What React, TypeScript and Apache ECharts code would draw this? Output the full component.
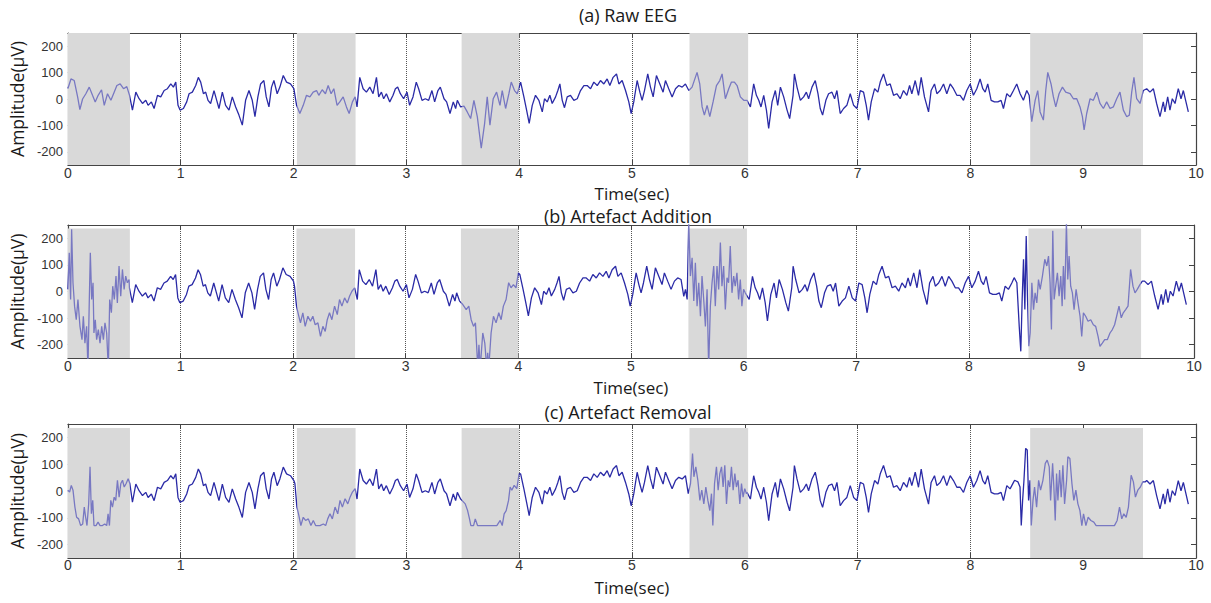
import React, { useEffect, useRef } from "react";
import * as echarts from "echarts";

// ---------------- data (time in seconds, amplitude in µV) ----------------
const TITLES = ["(a) Raw EEG", "(b) Artefact Addition", "(c) Artefact Removal"];
const X_NAME = "Time(sec)";
const Y_NAME = "Amplitude(\u03bcV)";
const Y_TICKS = [-200, -100, 0, 100, 200];
const SHADES: number[][] = [[0, 0.55], [2.03, 2.55], [3.49, 4.0], [5.51, 6.03], [8.53, 9.53]];
const SHADE_TOPS = [250, 237, 235];

const RAW_0_3: number[][] = [[0.000,40],[0.027,76],[0.056,70],[0.086,8],[0.106,-40],[0.130,0],[0.159,20],[0.189,45],[0.218,14],[0.242,-11],[0.268,14],[0.298,35],[0.322,-24],[0.351,20],[0.381,-5],[0.410,26],[0.434,51],[0.463,57],[0.493,39],[0.522,47],[0.546,14],[0.572,-42],[0.602,26],[0.631,1],[0.661,-17],[0.690,-5],[0.711,-24],[0.740,-11],[0.764,-36],[0.794,14],[0.823,8],[0.853,32],[0.882,39],[0.912,57],[0.935,45],[0.956,64],[0.976,-24],[0.994,-42],[1.024,-36],[1.053,-11],[1.074,20],[1.103,26],[1.133,51],[1.156,82],[1.177,64],[1.201,20],[1.221,26],[1.242,-5],[1.265,-17],[1.295,32],[1.319,-5],[1.339,-36],[1.369,26],[1.398,-24],[1.428,-42],[1.457,8],[1.487,-30],[1.516,-61],[1.546,-99],[1.575,-5],[1.605,32],[1.634,-5],[1.658,-67],[1.684,8],[1.708,57],[1.737,70],[1.758,8],[1.782,-30],[1.805,45],[1.826,70],[1.855,20],[1.879,45],[1.909,89],[1.938,64],[1.973,57],[2.003,39],[2.027,-24],[2.056,-55],[2.086,-24],[2.115,14],[2.145,8],[2.174,26],[2.204,32],[2.224,14],[2.254,35],[2.283,20],[2.307,51],[2.333,20],[2.357,39],[2.386,-24],[2.410,-11],[2.440,8],[2.469,-30],[2.493,-55],[2.522,-11],[2.546,8],[2.563,-30],[2.587,82],[2.617,39],[2.646,26],[2.676,45],[2.705,20],[2.735,82],[2.755,8],[2.779,26],[2.799,1],[2.823,20],[2.853,-11],[2.882,14],[2.903,39],[2.923,45],[2.947,20],[2.976,1],[3.006,26],[3.029,-24],[3.059,8],[3.088,64],[3.109,39],[3.139,-5],[3.168,1],[3.198,-5],[3.227,32],[3.251,-11],[3.280,32],[3.301,45]];

const RAW_3_6: number[][] = [[3.334,1],[3.357,-11],[3.387,-55],[3.416,-11],[3.437,-36],[3.452,-5],[3.481,-30],[3.511,-27],[3.540,-49],[3.570,-74],[3.599,-5],[3.629,-67],[3.664,-186],[3.694,-92],[3.717,8],[3.741,-99],[3.770,1],[3.800,26],[3.830,-24],[3.850,32],[3.880,-36],[3.909,20],[3.930,64],[3.959,32],[3.983,20],[4.013,64],[4.042,8],[4.066,-42],[4.089,-92],[4.116,-24],[4.145,14],[4.175,-5],[4.205,-49],[4.225,1],[4.249,-11],[4.272,14],[4.293,-17],[4.323,8],[4.343,32],[4.361,57],[4.382,-5],[4.402,-33],[4.426,8],[4.455,14],[4.485,-5],[4.515,1],[4.544,32],[4.574,51],[4.603,51],[4.633,39],[4.662,64],[4.692,51],[4.721,70],[4.751,57],[4.780,76],[4.804,51],[4.833,82],[4.863,95],[4.884,57],[4.913,70],[4.943,32],[4.972,-11],[4.993,-55],[5.016,-11],[5.046,70],[5.070,26],[5.090,-5],[5.111,32],[5.140,95],[5.164,45],[5.188,8],[5.217,89],[5.247,57],[5.276,26],[5.297,70],[5.326,39],[5.356,8],[5.386,39],[5.415,51],[5.445,45],[5.474,57],[5.504,32],[5.533,45],[5.577,101],[5.601,57],[5.622,-30],[5.642,-61],[5.666,-24],[5.690,-67],[5.719,-11],[5.749,51],[5.778,70],[5.799,95],[5.828,1],[5.858,39],[5.882,64],[5.908,64],[5.932,51],[5.961,8],[5.991,-5],[6.020,-5],[6.050,-30],[6.079,57],[6.103,14],[6.124,-5],[6.144,-30],[6.168,14],[6.192,-42],[6.212,-111],[6.242,-11],[6.271,32],[6.292,-24],[6.316,45],[6.345,8],[6.375,-42],[6.398,-74],[6.428,14],[6.440,95],[6.463,45],[6.493,-5],[6.522,8],[6.546,26],[6.566,1],[6.596,45]];

const RAW_6_10: number[][] = [[6.625,70],[6.649,20],[6.669,-36],[6.690,-61],[6.719,-5],[6.743,20],[6.773,26],[6.796,1],[6.817,32],[6.846,-55],[6.876,-36],[6.905,-24],[6.935,20],[6.965,-24],[6.994,-36],[7.024,32],[7.053,26],[7.077,-24],[7.097,-80],[7.121,-11],[7.151,39],[7.180,26],[7.201,64],[7.230,95],[7.260,51],[7.289,57],[7.319,14],[7.348,20],[7.378,1],[7.407,32],[7.437,14],[7.461,51],[7.481,20],[7.511,70],[7.540,14],[7.564,82],[7.593,8],[7.629,-49],[7.652,32],[7.682,57],[7.703,20],[7.732,32],[7.762,57],[7.791,20],[7.821,57],[7.850,39],[7.880,14],[7.909,14],[7.939,-5],[7.968,32],[7.998,57],[8.027,14],[8.057,39],[8.086,76],[8.110,39],[8.131,26],[8.154,57],[8.184,-5],[8.213,-11],[8.243,-11],[8.272,-5],[8.293,-36],[8.323,20],[8.352,8],[8.382,32],[8.411,57],[8.441,20],[8.470,-5],[8.500,32],[8.521,14],[8.544,-86],[8.574,-5],[8.597,32],[8.618,-49],[8.647,-80],[8.668,32],[8.686,101],[8.715,57],[8.736,8],[8.757,-30],[8.786,20],[8.816,45],[8.845,26],[8.884,20],[8.913,1],[8.943,1],[8.972,-30],[8.993,-67],[9.008,-117],[9.031,-55],[9.061,1],[9.090,-5],[9.120,26],[9.149,-17],[9.179,-36],[9.208,-11],[9.238,-36],[9.267,-30],[9.297,1],[9.326,26],[9.356,-42],[9.386,-67],[9.409,-61],[9.430,26],[9.450,82],[9.474,1],[9.504,-17],[9.533,32],[9.563,39],[9.592,26],[9.622,39],[9.651,-17],[9.681,-67],[9.710,-11],[9.725,-49],[9.749,8],[9.769,-42],[9.790,1],[9.814,-17],[9.843,39],[9.867,1],[9.888,32],[9.908,-5],[9.932,-49]];

// artefact-contaminated segments (panel b)
const ADD_1: number[][] = [[0.000,8],[0.012,146],[0.024,-30],[0.033,234],[0.045,33],[0.059,-55],[0.074,-106],[0.089,-30],[0.107,-131],[0.125,-181],[0.137,-93],[0.151,-194],[0.166,-131],[0.178,-290],[0.190,-30],[0.199,146],[0.211,-30],[0.223,33],[0.231,-156],[0.243,-106],[0.255,-181],[0.270,-143],[0.285,-194],[0.300,-131],[0.315,-181],[0.329,-118],[0.344,-156],[0.359,-290],[0.371,-30],[0.386,-80],[0.398,20],[0.412,-30],[0.427,58],[0.439,-43],[0.454,96],[0.469,-18],[0.484,83],[0.499,8],[0.513,58],[0.528,33],[0.543,45]];
const ADD_2: number[][] = [[2.012,20],[2.030,-55],[2.047,-87],[2.065,-118],[2.086,-80],[2.107,-131],[2.131,-93],[2.154,-112],[2.175,-93],[2.196,-125],[2.220,-118],[2.243,-169],[2.264,-131],[2.285,-150],[2.303,-106],[2.323,-80],[2.344,-106],[2.368,-55],[2.392,-87],[2.412,-30],[2.433,-55],[2.457,-24],[2.481,-43],[2.501,-18],[2.522,1],[2.546,14],[2.570,-30]];
const ADD_3: number[][] = [[3.478,-36],[3.507,-49],[3.537,-68],[3.560,-55],[3.581,-106],[3.602,-131],[3.619,-118],[3.640,-290],[3.650,-200],[3.661,-290],[3.684,-156],[3.702,-194],[3.720,-290],[3.728,-230],[3.737,-290],[3.758,-156],[3.779,-93],[3.802,-118],[3.826,-80],[3.847,-106],[3.867,-55],[3.891,-30],[3.914,33],[3.935,14],[3.956,26],[3.979,14],[4.000,70]];
const ADD_4: number[][] = [[5.469,-18],[5.484,8],[5.499,-30],[5.513,260],[5.528,58],[5.543,127],[5.558,-36],[5.572,108],[5.587,-55],[5.602,33],[5.617,-93],[5.631,58],[5.646,-30],[5.661,-131],[5.676,8],[5.690,-290],[5.705,-55],[5.720,33],[5.735,96],[5.749,-55],[5.764,96],[5.779,8],[5.794,184],[5.808,20],[5.823,96],[5.838,-68],[5.853,52],[5.867,33],[5.882,171],[5.897,-5],[5.912,58],[5.926,20],[5.941,70],[5.956,-30],[5.971,45],[5.985,-55],[6.000,8],[6.015,-5]];
const ADD_5: number[][] = [[8.403,52],[8.427,33],[8.448,-131],[8.462,-225],[8.474,-30],[8.486,121],[8.498,-68],[8.510,209],[8.521,-18],[8.533,-206],[8.545,-156],[8.560,33],[8.575,-68],[8.589,-5],[8.604,-43],[8.619,45],[8.634,8],[8.654,58],[8.675,121],[8.693,96],[8.708,133],[8.722,33],[8.734,-143],[8.746,228],[8.758,-30],[8.772,20],[8.787,70],[8.802,-18],[8.817,58],[8.829,-55],[8.840,96],[8.852,-30],[8.867,260],[8.879,45],[8.891,133],[8.905,20],[8.920,-5],[8.935,-68],[8.953,8],[8.970,-43],[8.988,-93],[9.003,-169],[9.018,-80],[9.038,-93],[9.059,-112],[9.083,-106],[9.106,-125],[9.127,-131],[9.148,-169],[9.165,-206],[9.186,-194],[9.207,-181],[9.230,-181],[9.254,-156],[9.275,-143],[9.295,-125],[9.313,-93],[9.334,-55],[9.354,-99],[9.372,-80],[9.393,-68],[9.414,-55],[9.437,83],[9.458,20],[9.476,-5],[9.496,8],[9.520,26],[9.541,39],[9.561,39]];

// cleaned segments (panel c)
const REM_1: number[][] = [[0.000,3],[0.015,-4],[0.030,21],[0.045,3],[0.062,-60],[0.077,-98],[0.095,-104],[0.113,-129],[0.131,-123],[0.145,-60],[0.157,-98],[0.169,-129],[0.184,-48],[0.196,90],[0.208,-85],[0.220,-35],[0.231,-129],[0.249,-129],[0.267,-116],[0.285,-129],[0.306,-129],[0.326,-123],[0.344,-129],[0.356,-85],[0.368,-129],[0.380,-35],[0.395,-60],[0.410,-23],[0.424,-35],[0.439,40],[0.454,-23],[0.469,28],[0.484,40],[0.499,15],[0.516,28],[0.534,46],[0.549,28]];
const REM_2: number[][] = [[2.012,28],[2.030,-60],[2.047,-91],[2.065,-129],[2.086,-98],[2.107,-110],[2.131,-104],[2.154,-129],[2.175,-110],[2.196,-129],[2.234,-129],[2.264,-123],[2.285,-129],[2.303,-104],[2.323,-85],[2.344,-104],[2.368,-60],[2.392,-85],[2.412,-35],[2.433,-60],[2.457,-29],[2.481,-48],[2.501,-23],[2.522,-4],[2.546,9]];
const REM_3: number[][] = [[3.493,-35],[3.522,-48],[3.543,-73],[3.560,-104],[3.572,-129],[3.596,-129],[3.611,-104],[3.631,-129],[3.684,-129],[3.743,-129],[3.802,-129],[3.832,-110],[3.850,-129],[3.867,-85],[3.885,-73],[3.906,-35],[3.920,15],[3.935,3],[3.956,21],[3.979,9],[4.000,65]];
const REM_4: number[][] = [[5.499,-10],[5.519,28],[5.537,140],[5.549,53],[5.566,90],[5.584,40],[5.602,-35],[5.619,3],[5.637,-48],[5.655,15],[5.673,-35],[5.690,-73],[5.705,-10],[5.717,-129],[5.732,28],[5.749,90],[5.764,3],[5.779,65],[5.794,90],[5.808,15],[5.823,96],[5.838,-48],[5.853,40],[5.867,15],[5.882,90],[5.897,3],[5.912,65],[5.926,15],[5.941,40],[5.956,-48],[5.971,28],[5.985,-23],[6.000,9],[6.015,-10]];
const REM_5: number[][] = [[8.392,40],[8.422,34],[8.440,15],[8.451,-129],[8.463,-35],[8.475,40],[8.490,159],[8.504,153],[8.516,-35],[8.528,40],[8.540,-129],[8.555,-35],[8.569,15],[8.587,-60],[8.605,40],[8.622,3],[8.643,40],[8.664,103],[8.681,115],[8.699,90],[8.711,-35],[8.729,103],[8.740,15],[8.752,-110],[8.764,65],[8.776,-35],[8.791,78],[8.805,-23],[8.820,96],[8.835,-48],[8.853,40],[8.864,128],[8.882,121],[8.900,28],[8.917,-35],[8.935,3],[8.953,-48],[8.971,-73],[8.988,-129],[9.003,-85],[9.024,-129],[9.044,-98],[9.068,-110],[9.094,-116],[9.115,-129],[9.159,-129],[9.218,-129],[9.277,-129],[9.301,-110],[9.322,-60],[9.342,-104],[9.360,-85],[9.381,-98],[9.401,-60],[9.425,59],[9.445,34],[9.463,-23],[9.484,3],[9.507,15],[9.528,34],[9.549,34]];

// ---------------- styling / layout ----------------
const DARK = "#2a2aa6";
const LIGHT = "#7878c2";
const FRAME = "#444";
const SHADE = "#d9d9d9";
const LAYOUT = [
  { left: 67, width: 1129, top: 33, height: 132, titleY: 15, labelMargin: 2, nameGap: 20 },
  { left: 64, width: 1130, top: 225, height: 133, titleY: 216, labelMargin: 2, nameGap: 21 },
  { left: 64, width: 1132, top: 424, height: 134, titleY: 412, labelMargin: 1, nameGap: 21 },
];

function compose(raw: number[][], segs: number[][][]): number[][] {
  const out = raw.filter(([t]) => !segs.some((s) => t >= s[0][0] && t <= s[s.length - 1][0]));
  segs.forEach((s) => out.push(...s));
  out.sort((a, b) => a[0] - b[0]);
  return out;
}

export default function App() {
  const ref = useRef<HTMLDivElement>(null);
  useEffect(() => {
    const chart = echarts.init(ref.current!, null, { renderer: "svg" });
    const RAW = [...RAW_0_3, ...RAW_3_6, ...RAW_6_10];
    const panels = [
      RAW,
      compose(RAW, [ADD_1, ADD_2, ADD_3, ADD_4, ADD_5]),
      compose(RAW, [REM_1, REM_2, REM_3, REM_4, REM_5]),
    ];

    const pieces: any[] = [];
    let prev = -Infinity;
    SHADES.forEach(([a, b]) => {
      if (a > prev) pieces.push({ gt: prev === -Infinity ? -1000 : prev, lt: a, color: DARK });
      pieces.push({ gte: a, lte: b, color: LIGHT });
      prev = b;
    });
    pieces.push({ gt: prev, lte: 1000, color: DARK });

    const grid: any[] = [];
    const xAxis: any[] = [];
    const yAxis: any[] = [];
    const series: any[] = [];
    const visualMap: any[] = [];
    const graphic: any[] = [];
    const labelFont = { fontFamily: "Liberation Sans, Arial, sans-serif", color: "#333" };
    const nameFont = { fontFamily: "Open Sans, sans-serif", color: "#1a1a1a" };

    LAYOUT.forEach((l, i) => {
      grid.push({ left: l.left, top: l.top, width: l.width, height: l.height, containLabel: false });
      const axLine = { show: true, onZero: false, lineStyle: { color: FRAME, width: 1.2 } };
      xAxis.push({
        type: "value", gridIndex: i, min: 0, max: 10, interval: 1, position: "bottom",
        axisLine: axLine,
        axisTick: { show: true, inside: true, length: 5, lineStyle: { color: FRAME } },
        axisLabel: { ...labelFont, fontSize: 14, lineHeight: 12, margin: l.labelMargin },
        splitLine: { show: true, lineStyle: { type: "dotted", color: "#555", width: 1 } },
        name: X_NAME, nameLocation: "middle", nameGap: l.nameGap,
        nameTextStyle: { ...nameFont, fontSize: 17, lineHeight: 17 },
      });
      xAxis.push({
        type: "value", gridIndex: i, min: 0, max: 10, interval: 1, position: "top",
        axisLine: axLine,
        axisTick: { show: true, inside: true, length: 5, lineStyle: { color: FRAME } },
        axisLabel: { show: false }, splitLine: { show: false },
      });
      yAxis.push({
        type: "value", gridIndex: i, min: -250, max: 250, position: "left",
        axisLine: axLine,
        axisTick: { show: true, inside: true, length: 5, customValues: Y_TICKS, lineStyle: { color: FRAME } },
        axisLabel: { ...labelFont, fontSize: 13, margin: 5, customValues: Y_TICKS },
        splitLine: { show: false },
        name: Y_NAME, nameLocation: "middle", nameGap: 38, nameRotate: 90,
        nameTextStyle: { ...nameFont, fontSize: 17.5 },
      });
      yAxis.push({
        type: "value", gridIndex: i, min: -250, max: 250, position: "right",
        axisLine: axLine,
        axisTick: { show: true, inside: true, length: 5, customValues: Y_TICKS, lineStyle: { color: FRAME } },
        axisLabel: { show: false }, splitLine: { show: false },
      });
      series.push({
        type: "line", xAxisIndex: 2 * i, yAxisIndex: 2 * i, data: panels[i],
        showSymbol: false, symbol: "none", clip: true,
        lineStyle: { width: 1.3 },
        markArea: {
          silent: true,
          itemStyle: { color: SHADE },
          data: SHADES.map(([a, b]) => [{ xAxis: a, yAxis: -250 }, { xAxis: b, yAxis: SHADE_TOPS[i] }]),
        },
      });
      visualMap.push({ type: "piecewise", show: false, dimension: 0, seriesIndex: i, pieces });
      graphic.push({
        type: "text", x: 628, y: l.titleY,
        style: { text: TITLES[i], align: "center", verticalAlign: "middle", fontSize: 18, lineHeight: 18, fontFamily: "Open Sans, sans-serif", fill: "#1a1a1a" },
      });
    });

    chart.setOption({
      animation: false,
      backgroundColor: "#fff",
      grid, xAxis, yAxis, series, visualMap, graphic,
    });
    return () => chart.dispose();
  }, []);
  return <div ref={ref} style={{ position: "fixed", left: 0, top: 0, width: 1211, height: 603, background: "#fff" }} />;
}
